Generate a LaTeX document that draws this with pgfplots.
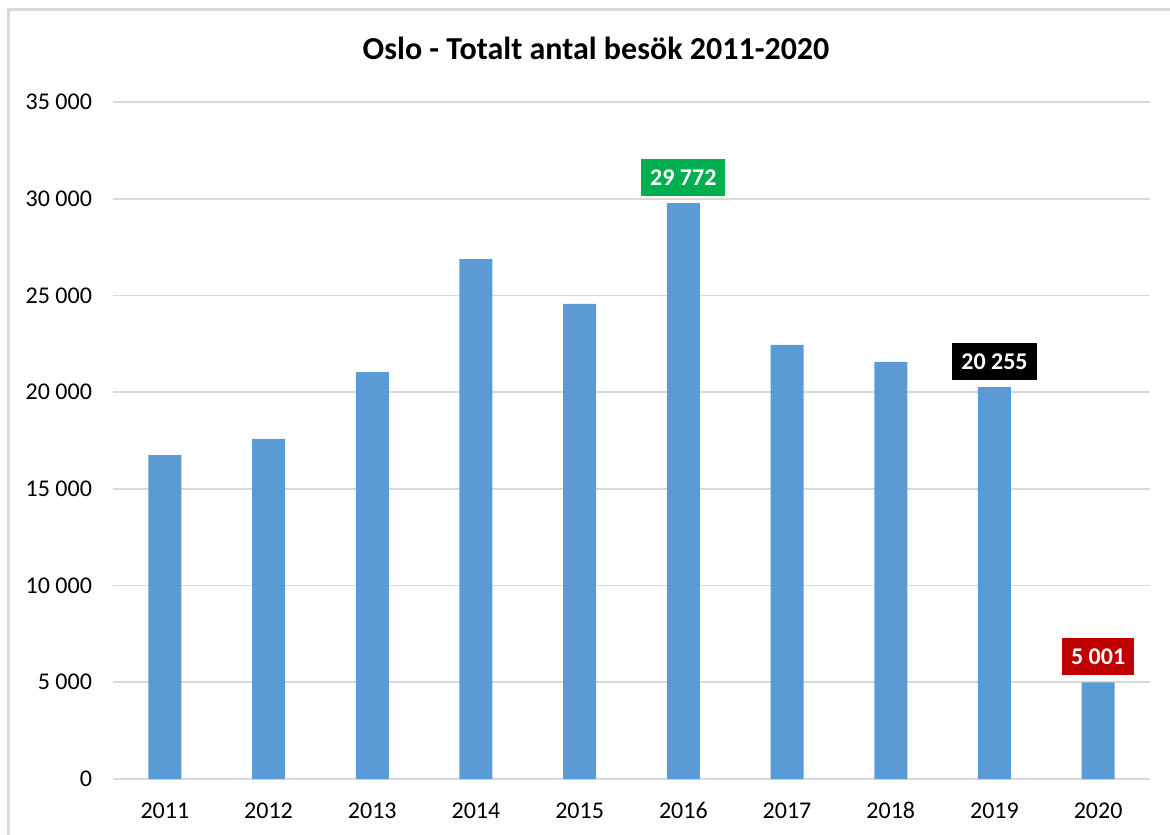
\documentclass[border=0pt]{standalone}
\usepackage{pgfplots}
\pgfplotsset{compat=1.18}
\usepackage{fontspec}
\setmainfont{Carlito}
\definecolor{barblue}{HTML}{5B9BD5}
\definecolor{gridgray}{HTML}{D9D9D9}
\definecolor{lblgreen}{HTML}{00B050}
\definecolor{lblred}{HTML}{C00000}
\begin{document}
\begin{tikzpicture}[x=0.5pt,y=0.5pt]
\useasboundingbox (0,0) rectangle (1170,834);
\draw[gridgray,line width=1.5pt] (8,-10) -- (8,824) -- (1175,824);
\node[font=\bfseries\fontsize{16}{18}\selectfont] at (596,786) {Oslo - Totalt antal besök 2011-2020};
\begin{axis}[
  at={(56.5pt,27.5pt)}, anchor=south west,
  scale only axis, width=518.5pt, height=338.5pt,
  xmin=-0.5, xmax=9.5, ymin=0, ymax=35000,
  xtick={0,...,9},
  xticklabels={2011,2012,2013,2014,2015,2016,2017,2018,2019,2020},
  ytick={0,5000,...,35000},
  yticklabels={0,5 000,10 000,15 000,20 000,25 000,30 000,35 000},
  scaled y ticks=false,
  major tick length=0pt,
  axis line style={draw=none},
  axis x line*=bottom,
  x axis line style={draw=gridgray, line width=0.8pt},
  ymajorgrids, grid style={gridgray, line width=0.8pt},
  yticklabel style={font=\fontsize{12}{14}\selectfont, xshift=-7pt},
  xticklabel style={font=\fontsize{12}{14}\selectfont, yshift=-7.5pt, text height=8.5pt, text depth=0pt},
  /pgf/number format/assume math mode=true,
  ybar, bar width=16.5pt, bar shift=0pt,
  clip=false,
]
\addplot[fill=barblue, draw=none] coordinates {
  (0,16750) (1,17580) (2,21040) (3,26880) (4,24560)
  (5,29772) (6,22440) (7,21560) (8,20255) (9,5001)};
\addplot[draw=none, fill=none, nodes near coords={29 772},
  every node near coord/.style={fill=lblgreen, text=white, font=\bfseries\fontsize{12}{14}\selectfont, inner xsep=4.5pt, inner ysep=0pt, minimum height=18.5pt, anchor=south, yshift=3.5pt}]
  coordinates {(5,29772)};
\addplot[draw=none, fill=none, nodes near coords={20 255},
  every node near coord/.style={fill=black, text=white, font=\bfseries\fontsize{12}{14}\selectfont, inner xsep=4.5pt, inner ysep=0pt, minimum height=18.5pt, anchor=south, yshift=3.5pt}]
  coordinates {(8,20255)};
\addplot[draw=none, fill=none, nodes near coords={5 001},
  every node near coord/.style={fill=lblred, text=white, font=\bfseries\fontsize{12}{14}\selectfont, inner xsep=4.5pt, inner ysep=0pt, minimum height=18.5pt, anchor=south, yshift=3.5pt}]
  coordinates {(9,5001)};
\end{axis}
\end{tikzpicture}
\end{document}
